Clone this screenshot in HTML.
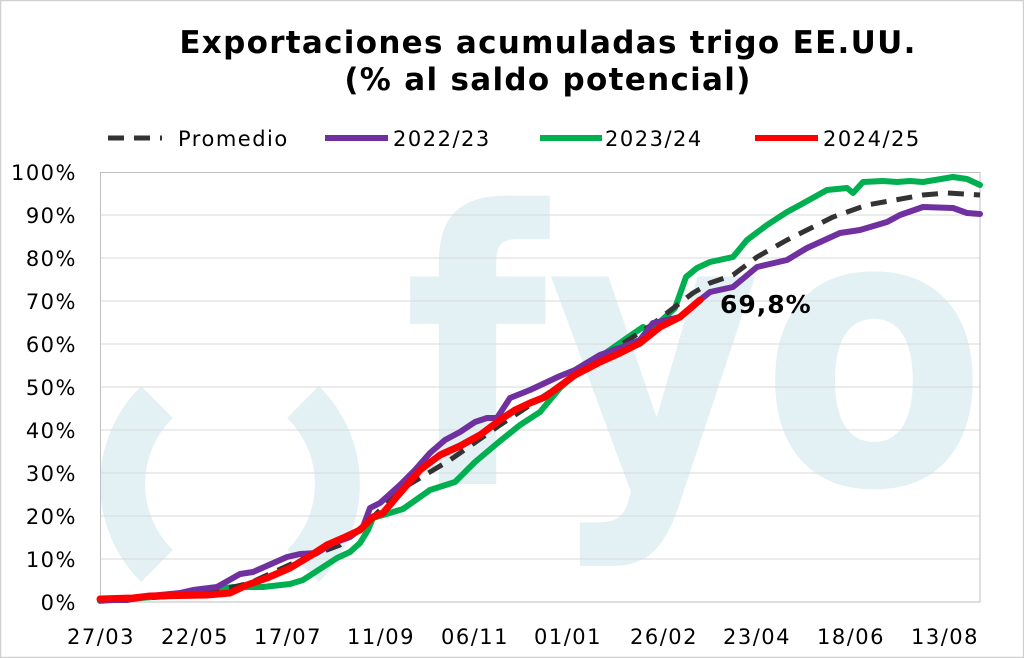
<!DOCTYPE html>
<html><head><meta charset="utf-8"><style>
body{margin:0;background:#fff;overflow:hidden;}
svg{display:block;font-family:"DejaVu Sans","Liberation Sans",sans-serif;}
</style></head><body>
<svg width="1024" height="658" viewBox="0 0 1024 658" xmlns="http://www.w3.org/2000/svg">
<rect x="0.5" y="0.5" width="1023" height="657" fill="#fff" stroke="#d0d0d0" stroke-width="1.5"/>
<defs><clipPath id="c"><rect x="100" y="172" width="880" height="430"/></clipPath></defs>
<g clip-path="url(#c)" fill="#e3f1f5">
<text transform="translate(404,484) scale(0.9,1.04)" font-size="365" font-weight="bold" font-family="DejaVu Sans,sans-serif">fyo</text>
</g>
<g clip-path="url(#c)">
<path d="M157,402 A115,115 0 0 0 157,566" fill="none" stroke="#e3f1f5" stroke-width="45"/>
<path d="M303,402 A115,115 0 0 1 303,566" fill="none" stroke="#e3f1f5" stroke-width="45"/>
</g>
<g stroke="#d9d9d9" stroke-width="1">
<line x1="100" x2="980" y1="215" y2="215"/><line x1="100" x2="980" y1="258" y2="258"/>
<line x1="100" x2="980" y1="301" y2="301"/><line x1="100" x2="980" y1="344" y2="344"/>
<line x1="100" x2="980" y1="387" y2="387"/><line x1="100" x2="980" y1="430" y2="430"/>
<line x1="100" x2="980" y1="473" y2="473"/><line x1="100" x2="980" y1="516" y2="516"/>
<line x1="100" x2="980" y1="559" y2="559"/>
</g>
<rect x="100.5" y="172.5" width="879.5" height="429.5" fill="none" stroke="#bfbfbf"/>
<g font-size="21" fill="#000" text-anchor="end" letter-spacing="1.5">
<text x="77" y="180">100%</text><text x="77" y="223">90%</text><text x="77" y="266">80%</text>
<text x="77" y="309">70%</text><text x="77" y="352">60%</text><text x="77" y="395">50%</text>
<text x="77" y="438">40%</text><text x="77" y="481">30%</text><text x="77" y="524">20%</text>
<text x="77" y="567">10%</text><text x="77" y="610">0%</text>
</g>
<g font-size="21" fill="#000" text-anchor="middle" letter-spacing="1.5">
<text x="101" y="644">27/03</text><text x="195" y="644">22/05</text><text x="288" y="644">17/07</text>
<text x="381" y="644">11/09</text><text x="475" y="644">06/11</text><text x="568" y="644">01/01</text>
<text x="664" y="644">26/02</text><text x="757" y="644">23/04</text><text x="851" y="644">18/06</text>
<text x="945" y="644">13/08</text>
</g>
<g fill="none" stroke-linejoin="round" stroke-linecap="round">
<polyline stroke="#00b050" stroke-width="6" points="100,601 180,595 233,587 263,587 290,584 303,580 320,569 337,558 350,552 360,543 368,530 373,518 393,512 403,509 430,490 455,482 475,462 500,441 520,425 540,412 560,388 580,370 600,357 627,338 643,327 653,333 662,320 675,308 686,277 697,268 710,262 733,257 747,240 767,225 787,212 800,205 827,190 847,188 853,193 863,182 883,181 897,182 910,181 923,182 953,177 967,179 980,185"/>
<polyline stroke="#333" stroke-width="5" stroke-dasharray="16,10" stroke-linecap="butt" points="100,600 200,595 250,583 300,560 340,545 370,520 400,490 450,460 500,425 550,392 600,358 650,326 693,293 710,283 733,275 757,257 787,240 833,217 867,205 923,195 947,193 980,195"/>
<polyline stroke="#7030a0" stroke-width="6" points="100,600 127,600 150,596 180,593 193,590 217,587 240,574 253,572 287,557 300,554 317,553 333,543 350,537 363,527 370,508 380,503 400,485 415,470 430,453 445,440 460,432 475,422 487,418 497,418 510,398 530,390 545,383 560,376 575,370 590,361 600,355 620,348 640,340 653,323 680,317 700,300 710,292 733,287 757,267 787,260 807,248 840,233 860,230 887,222 900,215 923,207 953,208 967,213 980,214"/>
<polyline stroke="#ff0000" stroke-width="7" points="100,599 133,598 150,596 207,595 230,593 247,585 267,578 290,568 310,556 327,545 343,538 360,530 373,517 383,513 400,493 420,470 440,455 460,446 480,435 500,420 515,410 530,403 545,397 560,386 575,375 600,362 620,353 640,343 660,327 680,317 700,300"/>
</g>
<text x="720" y="313" font-size="25" font-weight="bold" fill="#000" letter-spacing="1">69,8%</text>
<g font-size="21" fill="#000" letter-spacing="1.5">
<line x1="108" x2="162" y1="138" y2="138" stroke="#333" stroke-width="5" stroke-dasharray="16,10"/>
<text x="178" y="146">Promedio</text>
<line x1="325" x2="388" y1="138" y2="138" stroke="#7030a0" stroke-width="6"/>
<text x="393" y="146">2022/23</text>
<line x1="540" x2="602" y1="138" y2="138" stroke="#00b050" stroke-width="6"/>
<text x="605" y="146">2023/24</text>
<line x1="755" x2="818" y1="138" y2="138" stroke="#ff0000" stroke-width="6"/>
<text x="823" y="146">2024/25</text>
</g>
<g font-size="31" font-weight="bold" fill="#000" text-anchor="middle" letter-spacing="1.3">
<text x="548" y="53">Exportaciones acumuladas trigo EE.UU.</text>
<text x="548" y="90">(% al saldo potencial)</text>
</g>
</svg>
</body></html>
